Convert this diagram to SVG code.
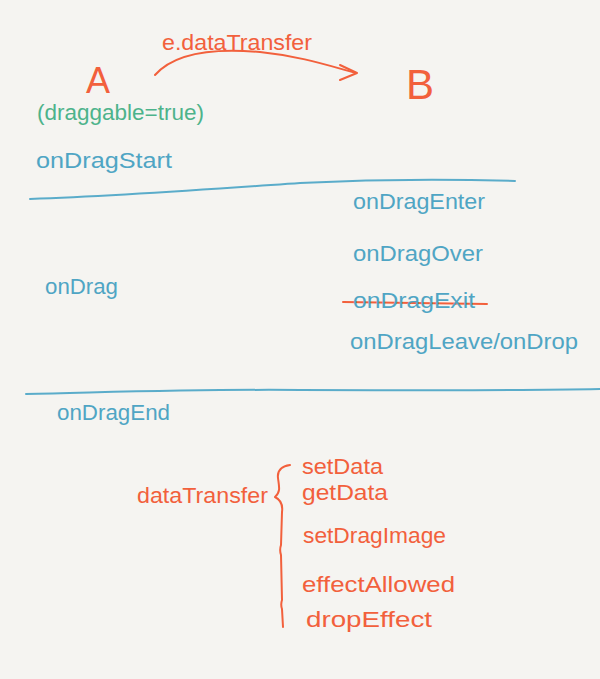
<svg xmlns="http://www.w3.org/2000/svg" width="600" height="679" viewBox="0 0 600 679">
<style>
text{font-family:"Liberation Sans","DejaVu Sans",sans-serif;}
.b{fill:#4fa5c4;font-size:22px;}
.r{fill:#f2603c;font-size:22px;}
.g{fill:#4db38b;font-size:22px;}
.ln{fill:none;stroke-linecap:round;stroke-linejoin:round;}
.bl{stroke:#5aacca;stroke-width:2;}
.rl{stroke:#f2603c;stroke-width:2;}
</style>
<rect width="600" height="679" fill="#f5f4f1"/>
<g id="connectors">
<path class="ln rl" d="M155,75 C175,52 215,48 260,52 C300,56 330,66 356,73"/>
<path class="ln rl" d="M340,65 L357,73 L340,80"/>
<path class="ln bl" d="M30,199 C120,196 200,190 300,183 C380,179 450,179 515,181"/>
<path class="ln bl" d="M26,394 C120,392 200,389 300,390 C400,390 500,391 600,389"/>
<path class="ln rl" d="M343,302 L487,304"/>
<path class="ln rl" d="M290,465 C282,466 277,470 278,478 C279,486 281,492 275,497 C281,500 283,505 282,512 L281,545 C280,548 280,552 281,555 L282,600 C281,603 281,606 282,609 L283,627"/>
</g>
<g id="label-edatatransfer"><text class="r" x="162" y="50" textLength="150" lengthAdjust="spacingAndGlyphs">e.dataTransfer</text></g>
<g id="node-A"><text class="r" x="86" y="93" style="font-size:36px">A</text></g>
<g id="node-B"><text class="r" x="406" y="99" style="font-size:42px">B</text></g>
<g id="draggable"><text class="g" x="37" y="120" textLength="167" lengthAdjust="spacingAndGlyphs">(draggable=true)</text></g>
<g id="onDragStart"><text class="b" x="36" y="168" textLength="136" lengthAdjust="spacingAndGlyphs">onDragStart</text></g>
<g id="onDragEnter"><text class="b" x="353" y="209" textLength="132" lengthAdjust="spacingAndGlyphs">onDragEnter</text></g>
<g id="onDragOver"><text class="b" x="353" y="261" textLength="130" lengthAdjust="spacingAndGlyphs">onDragOver</text></g>
<g id="onDragExit"><text class="b" x="353" y="308" textLength="122" lengthAdjust="spacingAndGlyphs">onDragExit</text></g>
<g id="onDragLeave"><text class="b" x="350" y="349" textLength="228" lengthAdjust="spacingAndGlyphs">onDragLeave/onDrop</text></g>
<g id="onDrag"><text class="b" x="45" y="294" textLength="73" lengthAdjust="spacingAndGlyphs">onDrag</text></g>
<g id="onDragEnd"><text class="b" x="57" y="420" textLength="113" lengthAdjust="spacingAndGlyphs">onDragEnd</text></g>
<g id="dataTransfer"><text class="r" x="137" y="503" textLength="131" lengthAdjust="spacingAndGlyphs">dataTransfer</text></g>
<g id="setData"><text class="r" x="302" y="474" textLength="81" lengthAdjust="spacingAndGlyphs">setData</text></g>
<g id="getData"><text class="r" x="302" y="500" textLength="86" lengthAdjust="spacingAndGlyphs">getData</text></g>
<g id="setDragImage"><text class="r" x="303" y="543" textLength="143" lengthAdjust="spacingAndGlyphs">setDragImage</text></g>
<g id="effectAllowed"><text class="r" x="302" y="592" textLength="153" lengthAdjust="spacingAndGlyphs">effectAllowed</text></g>
<g id="dropEffect"><text class="r" x="306" y="627" textLength="126" lengthAdjust="spacingAndGlyphs">dropEffect</text></g>
</svg>
